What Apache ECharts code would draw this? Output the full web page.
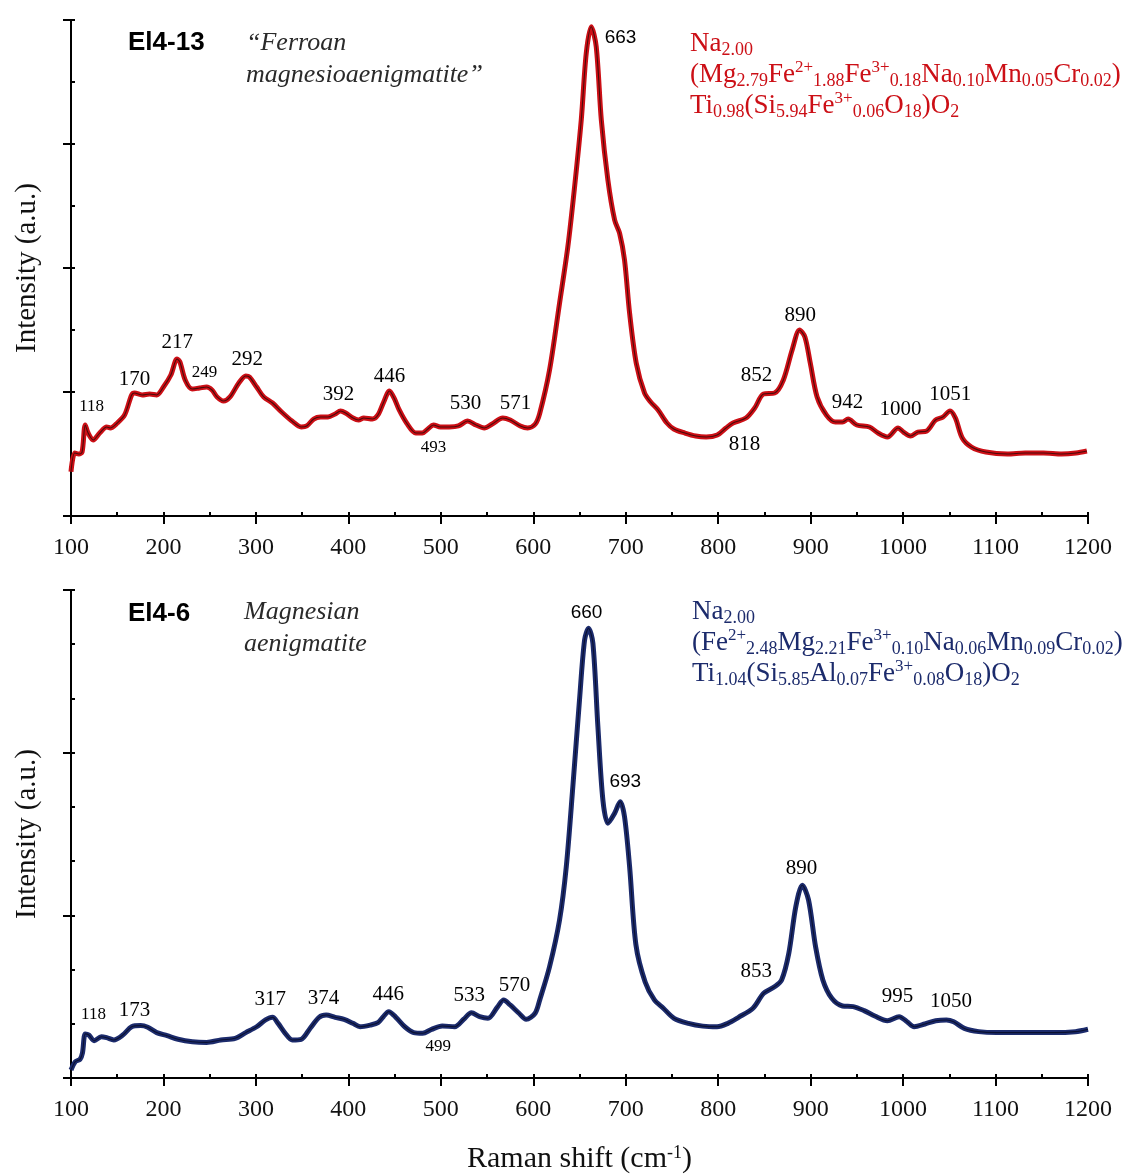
<!DOCTYPE html>
<html>
<head>
<meta charset="utf-8">
<script src="https://cdn.jsdelivr.net/npm/echarts@6/dist/echarts.min.js"></script>
<style>
html,body{margin:0;padding:0;background:#fff;}
#chart{width:1123px;height:1175px;}
</style>
</head>
<body>
<div id="chart"></div>
<script>
// ---------- DATA ----------
var xTicks = [100,200,300,400,500,600,700,800,900,1000,1100,1200];

var shiftTop = [100,104,108.5,112,115.4,118.5,124,131,138.6,142.5,150,158,165.6,168.7,177,185,192.7,200,208,214.7,217.8,223.5,231,239,246.7,252.5,258,265,272,281.5,289,293,300.8,308.5,318,327.8,339,349,355,362.5,370,378,385.7,391.5,397,405,411,416.6,426,432,437.8,444.4,449.4,455,463,473,480,486,492,499.6,509,519,529,538,547,555.6,567,575,586,594,602,607,617.6,628.4,637.4,644.7,651.9,657.3,662.7,668.1,673.6,680.7,688,693.4,698.7,704.2,711.4,720.4,727,735,744.6,752,764,775.6,787,799,808.5,816,830,839.5,849,861,870.5,880,888,893.8,899.6,907,917,926.7,934.5,940.5,950,963.6,973,983,994.6,1000.4,1008,1016,1025.6,1035,1043,1050.8,1056.6,1064,1074,1089.5,1112.8,1132,1152,1171.5,1187,1198.8];
var intensityTop = [35.7,50.8,50.0,51.6,73.4,66.9,61.3,66.9,71.8,71.0,75.0,81.5,97.6,99.2,97.6,98.4,97.6,104.0,113.7,126.6,124.2,109.7,102.4,103.2,104.0,101.6,96.0,92.7,96.0,107.3,112.9,112.1,104.0,96.0,91.1,83.9,76.6,71.8,72.6,78.2,79.8,79.8,82.3,84.7,83.1,79.0,77.4,79.0,78.2,81.5,91.1,100.8,95.2,85.5,75.0,66.9,66.9,70.2,73.4,71.8,71.8,72.6,76.6,73.4,71.0,74.2,79.0,77.4,72.6,71.0,74.0,82.8,117.7,171.5,217.2,265.6,319.4,373.2,394.6,378.5,319.4,271.0,238.7,228.0,206.5,163.5,123.2,99.0,91.9,85.5,75.0,70.2,66.9,64.5,63.7,65.3,71.0,75.0,79.0,87.1,98.4,99.2,109.7,133.9,150.0,144.4,123.4,96.0,81.5,75.8,75.8,78.2,73.4,71.8,66.9,63.7,71.0,67.7,64.5,67.7,68.6,77.4,79.8,84.7,79.0,62.9,55.6,51.6,50.0,50.8,50.8,50.0,50.8,52.4];

var shiftBottom = [100,104.6,109.7,112.4,115.4,119.3,125,132.8,138.6,146.3,156,165.6,175.3,183,192.7,204,215.8,231.3,246.7,262,277.6,289,300.8,310.4,318,324,331.7,339.4,349,358.7,368.3,376,385.7,395.4,405,412.7,424.3,432,437.8,443.6,451.4,461,470.7,480.3,490,501.5,515,524.7,533.2,542,551,561.4,568,575,584.6,592.3,602,607,617.6,628.4,635.7,642.8,650,655.5,659.8,664.5,669.9,675.3,680.7,688,694,698.7,704.2,711,721,731,740.7,752.3,767.8,783.3,798.8,810.5,822,837.6,849.2,860.9,868.6,876.4,884,891,897.7,905.4,913.2,922.9,934.5,946,957.8,969.4,983,995.7,1004.3,1012,1023.6,1035.3,1046.9,1054.7,1066.3,1081.8,1101.2,1132.2,1163,1186.4,1200];
var intensityBottom = [4.9,10.0,11.5,15.4,27.1,26.4,22.9,25.4,24.8,23.4,26.4,31.5,32.2,31.2,27.9,26.0,23.8,22.3,21.9,23.4,24.4,27.9,31.5,35.7,37.3,33.6,27.5,23.4,23.8,30.6,37.3,38.7,37.3,36.1,33.6,31.5,32.6,34.0,37.7,40.8,37.3,31.5,27.9,27.5,29.9,32.0,31.5,36.1,40.1,37.7,36.7,43.8,48.0,44.9,39.8,36.1,39.8,48.0,68.4,97.1,129.9,179.1,232.4,269.3,276.5,267.3,216.0,170.9,156.6,162.7,169.9,160.6,129.9,82.0,59.0,48.0,42.9,36.7,33.6,31.9,31.5,33.6,37.3,42.9,52.1,56.1,60.3,76.7,105.4,118.5,109.5,80.5,60.3,49.0,44.3,43.9,41.4,38.1,35.2,37.7,34.6,31.5,33.2,35.2,35.7,34.6,30.5,28.5,27.9,27.9,27.9,28.5,30.0];

// peak labels: text, anchor shift, anchor intensity
var peakTextTop  = ['170','217','292','392','446','530','571','818','852','890','942','1000','1051'];
var peakXTop     = [168.8,214.8,290.5,389.4,444.5,526.7,580.8,828.5,841.5,888.7,939.9,997.2,1051];
var peakYTop     = [109.7,140.3,126.6,97.6,112.9,91.1,91.1,57.3,113.7,162.1,91.9,86.3,97.6];
var smallTextTop = ['118','249','493'];
var smallXTop    = [122.3,244.5,492.1];
var smallYTop    = [87.9,115.3,55.6];
var mainTextTop  = ['663'];
var mainXTop     = [694.4];
var mainYTop     = [385.5];

var peakTextBottom  = ['173','317','374','446','533','570','853','890','995','1050'];
var peakXBottom     = [168.8,315.6,373.2,443.1,530.7,579.8,841.3,890.2,994.0,1051.8];
var peakYBottom     = [41.8,48.0,48.6,51.6,50.6,56.6,65.4,128.5,50.0,46.9];
var smallTextBottom = ['118','499'];
var smallXBottom    = [124.4,497.1];
var smallYBottom    = [39.3,19.2];
var mainTextBottom  = ['660','693'];
var mainXBottom     = [657.6,699.5];
var mainYBottom     = [285.9,182.0];

var sampleTop = 'El4-13';
var nameTop = '\u201CFerroan\nmagnesioaenigmatite\u201D';
var sampleBottom = 'El4-6';
var nameBottom = 'Magnesian\naenigmatite';
var formulaTop = 'Na{sub|2.00}\n(Mg{sub|2.79}Fe{sup|2+}{sub|1.88}Fe{sup|3+}{sub|0.18}Na{sub|0.10}Mn{sub|0.05}Cr{sub|0.02})\nTi{sub|0.98}(Si{sub|5.94}Fe{sup|3+}{sub|0.06}O{sub|18})O{sub|2}';
var formulaBottom = 'Na{sub|2.00}\n(Fe{sup|2+}{sub|2.48}Mg{sub|2.21}Fe{sup|3+}{sub|0.10}Na{sub|0.06}Mn{sub|0.09}Cr{sub|0.02})\nTi{sub|1.04}(Si{sub|5.85}Al{sub|0.07}Fe{sup|3+}{sub|0.08}O{sub|18})O{sub|2}';

// ---------- BUILD ----------
function pairs(xs, ys){ return xs.map(function(x,i){ return [x, ys[i]]; }); }
function labelPts(t, xs, ys){ return t.map(function(s,i){ return [xs[i], ys[i], s]; }); }

var SERIF = '"Liberation Serif","Times New Roman",serif';
var SANS = '"Liberation Sans",Arial,sans-serif';
var RED = '#cc0f16';
var NAVY = '#1c2b6c';
var INK = '#000000';

function mainX(gi, showName){
  var a = {
    type:'value', gridIndex:gi, min:100, max:1200, interval:100, position:'bottom',
    axisLine:{show:true, onZero:false, lineStyle:{color:'#000', width:2}},
    axisTick:{show:true, inside:false, length:8, lineStyle:{color:'#000', width:2}},
    minorTick:{show:false},
    splitLine:{show:false},
    axisLabel:{show:true, margin:20, fontFamily:SERIF, fontSize:24, color:'#111',
      formatter:function(v){ return xTicks.indexOf(v) >= 0 ? String(v) : ''; }}
  };
  if (showName){
    a.name = 'Raman shift (cm{sup|-1})';
    a.nameLocation = 'middle';
    a.nameGap = 66;
    a.nameTextStyle = {fontFamily:SERIF, fontSize:30, color:'#111',
      rich:{sup:{fontFamily:SERIF, fontSize:18, color:'#111', verticalAlign:'top', lineHeight:17}}};
  }
  return a;
}
function innerX(gi){
  return {
    type:'value', gridIndex:gi, min:100, max:1200, interval:100, position:'bottom', offset:0,
    axisLine:{show:false},
    axisTick:{show:true, inside:true, length:4, lineStyle:{color:'#000', width:2}},
    minorTick:{show:true, splitNumber:2, length:4, lineStyle:{color:'#000', width:2}},
    splitLine:{show:false}, axisLabel:{show:false}
  };
}
function mainY(gi, max){
  return {
    type:'value', gridIndex:gi, min:0, max:max, interval:100, position:'left',
    name:'Intensity (a.u.)', nameLocation:'middle', nameGap:29,
    nameTextStyle:{fontFamily:SERIF, fontSize:29, color:'#111'},
    axisLine:{show:true, onZero:false, lineStyle:{color:'#000', width:2}},
    axisTick:{show:true, inside:false, length:8, lineStyle:{color:'#000', width:2}},
    splitLine:{show:false}, axisLabel:{show:false}
  };
}
function innerY(gi, max, split){
  return {
    type:'value', gridIndex:gi, min:0, max:max, interval:100, position:'left', offset:0,
    axisLine:{show:false},
    axisTick:{show:true, inside:true, length:4, lineStyle:{color:'#000', width:2}},
    minorTick:{show:true, splitNumber:split, length:4, lineStyle:{color:'#000', width:2}},
    splitLine:{show:false}, axisLabel:{show:false}
  };
}
function lineSeries(xi, yi, data, color, width, z){
  return {type:'line', xAxisIndex:xi, yAxisIndex:yi, data:data, symbol:'none', smooth:0.3,
    lineStyle:{color:color, width:width}, z:z, silent:true, animation:false};
}
function labelSeries(xi, yi, data, font, size){
  return {type:'scatter', xAxisIndex:xi, yAxisIndex:yi, data:data, symbolSize:0, silent:true,
    animation:false, z:10, itemStyle:{opacity:1},
    label:{show:true, position:'inside', formatter:function(p){ return p.value[2]; },
      fontFamily:font, fontSize:size, color:INK, opacity:1, textBorderWidth:0}};
}

var topData = pairs(shiftTop, intensityTop);
var botData = pairs(shiftBottom, intensityBottom);

var richFormula = function(color){
  return {
    sub:{fontFamily:SERIF, fontSize:18, color:color, verticalAlign:'bottom', lineHeight:17},
    sup:{fontFamily:SERIF, fontSize:17, color:color, verticalAlign:'top', lineHeight:17}
  };
};

var option = {
  backgroundColor:'#ffffff',
  animation:false,
  grid:[
    {left:71, right:35, top:20, height:496},
    {left:71, right:35, top:590, height:488}
  ],
  xAxis:[mainX(0,false), innerX(0), mainX(1,true), innerX(1)],
  yAxis:[mainY(0,400), innerY(0,400,2), mainY(1,300), innerY(1,300,3)],
  series:[
    lineSeries(0,0,topData,RED,5,3),
    lineSeries(0,0,topData,'#4a0a0a',1.1,4),
    lineSeries(2,2,botData,NAVY,5,3),
    lineSeries(2,2,botData,'#0a1030',1.1,4),
    labelSeries(0,0,labelPts(peakTextTop,peakXTop,peakYTop),SERIF,21),
    labelSeries(0,0,labelPts(smallTextTop,smallXTop,smallYTop),SERIF,17),
    labelSeries(0,0,labelPts(mainTextTop,mainXTop,mainYTop),SANS,19),
    labelSeries(2,2,labelPts(peakTextBottom,peakXBottom,peakYBottom),SERIF,21),
    labelSeries(2,2,labelPts(smallTextBottom,smallXBottom,smallYBottom),SERIF,17),
    labelSeries(2,2,labelPts(mainTextBottom,mainXBottom,mainYBottom),SANS,19)
  ],
  graphic:[
    {type:'text', left:128, top:30, style:{text:sampleTop, font:'bold 26px '+SANS, fill:'#000'}},
    {type:'text', left:246, top:27, style:{text:nameTop, font:'italic 26px '+SERIF, fill:'#2a2a2a', lineHeight:32}},
    {type:'text', left:690, top:28, style:{text:formulaTop, fontFamily:SERIF, fontSize:27, fill:RED, lineHeight:31, rich:richFormula(RED)}},
    {type:'text', left:128, top:601, style:{text:sampleBottom, font:'bold 26px '+SANS, fill:'#000'}},
    {type:'text', left:244, top:596, style:{text:nameBottom, font:'italic 26px '+SERIF, fill:'#2a2a2a', lineHeight:32}},
    {type:'text', left:692, top:596, style:{text:formulaBottom, fontFamily:SERIF, fontSize:27, fill:NAVY, lineHeight:31, rich:richFormula(NAVY)}}
  ]
};

var chart = echarts.init(document.getElementById('chart'), null, {renderer:'canvas'});
chart.setOption(option);
</script>
</body>
</html>
